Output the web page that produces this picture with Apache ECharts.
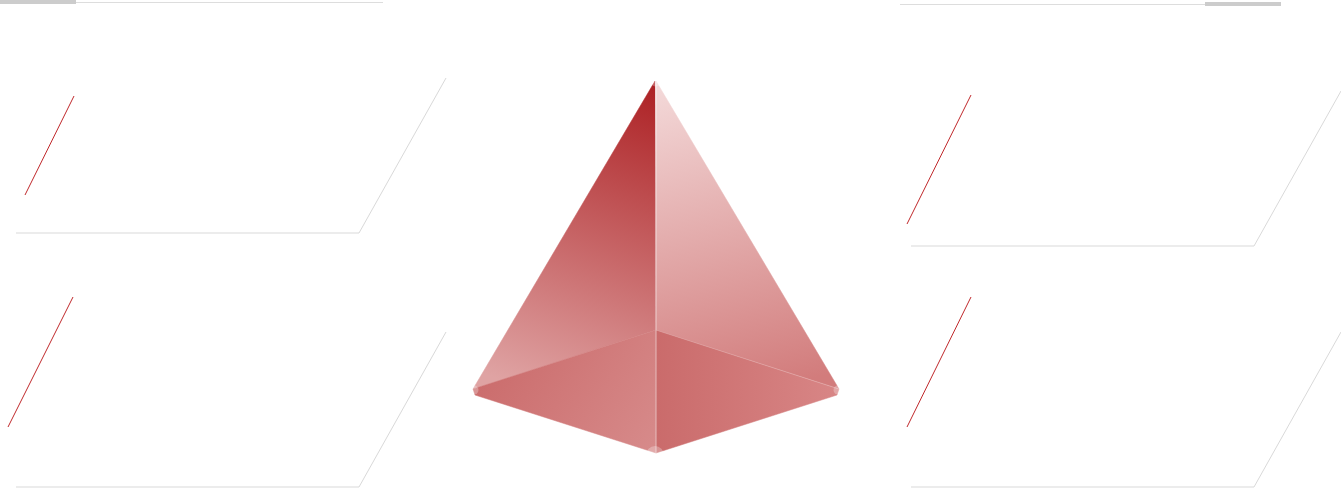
<!DOCTYPE html>
<html>
<head>
<meta charset="utf-8">
<title>pyramid</title>
<script src="https://cdn.jsdelivr.net/npm/echarts@6/dist/echarts.min.js"></script>
<style>
    html, body { margin: 0; padding: 0; background: #fff; }
    .main { width: 1341px; height: 488px; }
</style>
</head>
<body>
<div class="main"></div>
<script>
// 金字塔四个面的顶点 (x, y)
var faceLeft = [[655, 81], [473, 389], [656, 330]];
var faceRight = [[656, 81], [656, 330], [839, 389]];
var faceBottomLeft = [[473, 389], [656, 330], [656, 453], [475, 395]];
var faceBottomRight = [[656, 330], [839, 389], [837, 395], [656, 453]];

// 中线 / 右边棱
var ridgeCenter = [[656, 81], [656, 453]];
var ridgeRight = [[656, 330], [839, 389]];

// 四个角的小圆点
var cornerDots = [[656, 82], [474, 390], [838, 390], [655, 455]];

// 顶部装饰线
var topBarLeft = [[0, 2], [76, 2]];
var topLineLeft = [[76, 2.5], [383, 2.5]];
var topLineRight = [[900, 4.5], [1205, 4.5]];
var topBarRight = [[1205, 4], [1281, 4]];

// 四个文本框: 红色斜线 + 灰色边框
var redLines = [
    [[25, 195], [74, 96]],
    [[8, 427], [73, 297]],
    [[907, 224], [971, 95]],
    [[907, 427], [971, 297]]
];
var greyFrames = [
    [[16, 233], [359, 233], [446, 78]],
    [[16, 487], [359, 487], [446, 332]],
    [[911, 246], [1254, 246], [1341, 91]],
    [[911, 487], [1254, 487], [1341, 332]]
];

(function () {
    var myChart = echarts.init(document.getElementsByClassName('main')[0]);

    var faces = [faceLeft, faceRight, faceBottomLeft, faceBottomRight];

    // 每个面的渐变
    var fills = [
        new echarts.graphic.LinearGradient(0.9, 0, 0.3, 1, [
            { offset: 0, color: '#ad2225' },
            { offset: 1, color: '#dfa3a3' }
        ]),
        new echarts.graphic.LinearGradient(0.2, 0, 0.6, 1, [
            { offset: 0, color: '#f3d8d8' },
            { offset: 1, color: '#d27c7c' }
        ]),
        new echarts.graphic.LinearGradient(0, 0, 1, 1, [
            { offset: 0, color: '#c96767' },
            { offset: 1, color: '#d78b8b' }
        ]),
        new echarts.graphic.LinearGradient(0, 0, 1, 0, [
            { offset: 0, color: '#ca6b6b' },
            { offset: 1, color: '#d88686' }
        ])
    ];

    function lineSeries(points, color, width, z) {
        return {
            type: 'line',
            data: points,
            showSymbol: false,
            silent: true,
            z: z || 2,
            lineStyle: { color: color, width: width }
        };
    }

    var series = [
        {
            type: 'custom',
            silent: true,
            z: 1,
            data: faces.map(function (f) { return f[0]; }),
            renderItem: function (params, api) {
                var pts = faces[params.dataIndex].map(function (p) {
                    return api.coord(p);
                });
                return {
                    type: 'polygon',
                    shape: { points: pts },
                    style: {
                        fill: fills[params.dataIndex],
                        stroke: fills[params.dataIndex],
                        lineWidth: 0.5
                    }
                };
            }
        },
        lineSeries(ridgeCenter, 'rgba(255,255,255,0.55)', 1, 3),
        lineSeries(ridgeRight, 'rgba(255,255,255,0.22)', 1, 3),
        {
            type: 'scatter',
            data: cornerDots,
            silent: true,
            z: 4,
            symbolSize: function (v, p) { return p.dataIndex === 3 ? 18 : 9; },
            itemStyle: { color: 'rgba(255,255,255,0.35)' }
        },
        lineSeries(topBarLeft, '#cccccc', 4),
        lineSeries(topLineLeft, '#dddddd', 1),
        lineSeries(topLineRight, '#dddddd', 1),
        lineSeries(topBarRight, '#cccccc', 4)
    ];

    redLines.forEach(function (l) {
        series.push(lineSeries(l, '#c0282b', 1));
    });
    greyFrames.forEach(function (l) {
        series.push(lineSeries(l, '#d9d9d9', 1));
    });

    var option = {
        animation: false,
        backgroundColor: '#fff',
        grid: { left: 0, right: 0, top: 0, bottom: 0 },
        xAxis: { type: 'value', min: 0, max: 1341, show: false },
        yAxis: { type: 'value', min: 0, max: 488, inverse: true, show: false },
        series: series
    };

    myChart.setOption(option);

    window.addEventListener('resize', function () {
        myChart.resize();
    });
})();
</script>
</body>
</html>
